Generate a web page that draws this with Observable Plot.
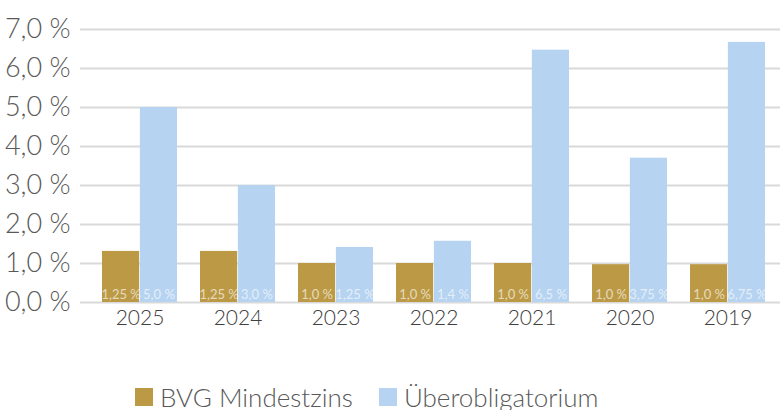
<!DOCTYPE html>
<html>
<head>
<meta charset="utf-8">
<script src="https://cdn.jsdelivr.net/npm/d3@7"></script>
<script src="https://cdn.jsdelivr.net/npm/@observablehq/plot@0.6"></script>
<style>
  body { margin: 0; background: #fff; font-family: Lato, "Open Sans", sans-serif; }
  #chart svg { display: block; }
  .legend { display: flex; align-items: center; margin-top: 37px; padding-left: 135px; font-size: 26px; font-weight: 300; color: #595959; line-height: 30px; }
  .legend .item { display: flex; align-items: center; margin-right: 26px; }
  .legend .sw { width: 18px; height: 18px; margin-right: 7px; }
</style>
</head>
<body>
<div id="chart"></div>
<script>
// Data
const years = ["2025", "2024", "2023", "2022", "2021", "2020", "2019"];
const seriesNames = ["BVG Mindestzins", "Überobligatorium"];
const seriesColors = ["#bc9a45", "#b6d3f1"];
// bar heights as drawn
const bvgBar = [1.31, 1.31, 1.0, 1.0, 1.0, 0.97, 0.97];
const uberBar = [5.0, 3.0, 1.41, 1.57, 6.47, 3.70, 6.67];
// value labels printed in the bars
const bvgLabel = [1.25, 1.25, 1.0, 1.0, 1.0, 1.0, 1.0];
const uberLabel = [5.0, 3.0, 1.25, 1.4, 6.5, 3.75, 6.75];
const yTicks = [0, 1, 2, 3, 4, 5, 6, 7];

const fmtLabel = v => (Number.isInteger(v) ? v.toFixed(1) : String(v)).replace(".", ",") + " %";
const fmtTick = v => v.toFixed(1).replace(".", ",") + " %";

const rows = years.map((year, i) => ({
  year, bvg: bvgBar[i], uber: uberBar[i], bvgL: fmtLabel(bvgLabel[i]), uberL: fmtLabel(uberLabel[i])
}));

const W = 783, H = 345, mL = 80, mR = 3, mT = 29, mB = 43;
const xOpts = { type: "band", domain: years, paddingInner: 0.231, paddingOuter: 0.169, align: 0.6 };
const bw = Plot.scale({ x: { ...xOpts, range: [mL, W - mR] } }).bandwidth;
const font = "Lato, 'Open Sans', sans-serif";

const chart = Plot.plot({
  width: W, height: H,
  marginLeft: mL, marginRight: mR, marginTop: mT, marginBottom: mB,
  style: { fontFamily: font, background: "#fff" },
  x: { ...xOpts, axis: null },
  y: { domain: [0, 7], axis: null },
  marks: [
    Plot.ruleY(yTicks, { stroke: "#d9d9d9", strokeWidth: 2 }),
    Plot.barY(rows, { x: "year", y: "bvg", fill: seriesColors[0], insetRight: bw / 2 }),
    Plot.barY(rows, { x: "year", y: "uber", fill: seriesColors[1], insetLeft: bw / 2 }),
    Plot.text(rows, { x: "year", y: 0, text: "bvgL", dx: -bw / 4, dy: -4, lineAnchor: "bottom", fill: "#fff", fillOpacity: 0.65, fontSize: 13, fontWeight: 400 }),
    Plot.text(rows, { x: "year", y: 0, text: "uberL", dx: bw / 4, dy: -4, lineAnchor: "bottom", fill: "#fff", fillOpacity: 0.65, fontSize: 13, fontWeight: 400 }),
    Plot.text(yTicks, { y: d => d, text: fmtTick, frameAnchor: "left", textAnchor: "end", dx: -10, fill: "#595959", fontSize: 27, fontWeight: 300 }),
    Plot.text(years, { x: d => d, text: d => d, frameAnchor: "bottom", dy: 22, fill: "#404040", fontSize: 21, fontWeight: 300 })
  ]
});
document.getElementById("chart").appendChild(chart);

const legend = document.createElement("div");
legend.className = "legend";
seriesNames.forEach((name, i) => {
  const item = document.createElement("div");
  item.className = "item";
  const sw = document.createElement("span");
  sw.className = "sw";
  sw.style.background = seriesColors[i];
  const label = document.createElement("span");
  label.textContent = name;
  item.append(sw, label);
  legend.appendChild(item);
});
document.body.appendChild(legend);
</script>
</body>
</html>
